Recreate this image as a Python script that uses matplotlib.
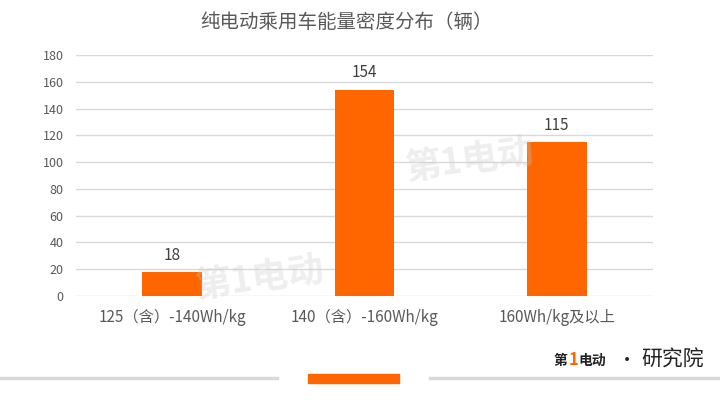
import matplotlib
matplotlib.use("Agg")
import matplotlib.pyplot as plt
from matplotlib.patches import Rectangle
from matplotlib.lines import Line2D

plt.rcParams['font.family'] = ['Noto Sans CJK SC', 'DejaVu Sans']

categories = ["125（含）-140Wh/kg", "140（含）-160Wh/kg", "160Wh/kg及以上"]
values = [18, 154, 115]
yticks = [0, 20, 40, 60, 80, 100, 120, 140, 160, 180]
title = "纯电动乘用车能量密度分布（辆）"

orange = "#FF6600"
grid_c = "#D9D9D9"
text_c = "#595959"

fig = plt.figure(figsize=(7.2, 4.05), dpi=100)
ax = fig.add_axes([76/720, 1-296/405, (653-76)/720, (296-55)/405])

x = list(range(len(categories)))
bars = ax.bar(x, values, width=0.31, color=orange, zorder=3)
ax.set_xlim(-0.5, len(categories)-0.5)
ax.set_ylim(0, 180)
ax.set_yticks(yticks)
ax.set_yticklabels([str(v) for v in yticks], fontsize=9, color=text_c)
ax.set_xticks(x)
ax.set_xticklabels(categories, fontsize=11, color=text_c)
ax.tick_params(axis='y', length=0, pad=9)
ax.tick_params(axis='x', length=0, pad=9)
ax.grid(axis='y', color=grid_c, linewidth=1, zorder=0)
for s in ax.spines.values():
    s.set_visible(False)

for xi, v in zip(x, values):
    ax.annotate(str(v), (xi, v), xytext=(0, 6), textcoords='offset points',
                ha='center', va='bottom', fontsize=11, color="#404040")

# watermarks
fig.text(470/720, 1-160/405, "第1电动", fontsize=26, color="#C8C8C8", alpha=0.3,
         ha='center', va='center', rotation=8, fontweight='bold')
fig.text(260/720, 1-278/405, "第1电动", fontsize=26, color="#C8C8C8", alpha=0.3,
         ha='center', va='center', rotation=8, fontweight='bold')

fig.text(347/720, 1-22/405, title, fontsize=14, color=text_c, ha='center', va='center')

# bottom decoration
fig.add_artist(Line2D([0, 277/720], [1-378/405]*2, color=grid_c, linewidth=2.5,
                      transform=fig.transFigure))
fig.add_artist(Line2D([430/720, 1], [1-378/405]*2, color=grid_c, linewidth=2.5,
                      transform=fig.transFigure))
fig.add_artist(Rectangle((308/720, 1-383/405), 91/720, 9/405, color=orange,
                         transform=fig.transFigure))

# logo
fig.text(553/720, 1-361/405, "第", fontsize=10, color="#222222", ha='left', va='center',
         fontweight='bold', style='italic')
fig.text(569/720, 1-360/405, "1", fontsize=12, color=orange, ha='left', va='center',
         fontweight='bold', style='italic')
fig.text(578/720, 1-361/405, "电动", fontsize=10, color="#222222", ha='left', va='center',
         fontweight='bold', style='italic')
fig.text(627/720, 1-361/405, "·", fontsize=13, color="#222222", ha='center', va='center')
fig.text(673/720, 1-360/405, "研究院", fontsize=15, color="#222222", ha='center', va='center')

fig.savefig("out.png", dpi=100)
